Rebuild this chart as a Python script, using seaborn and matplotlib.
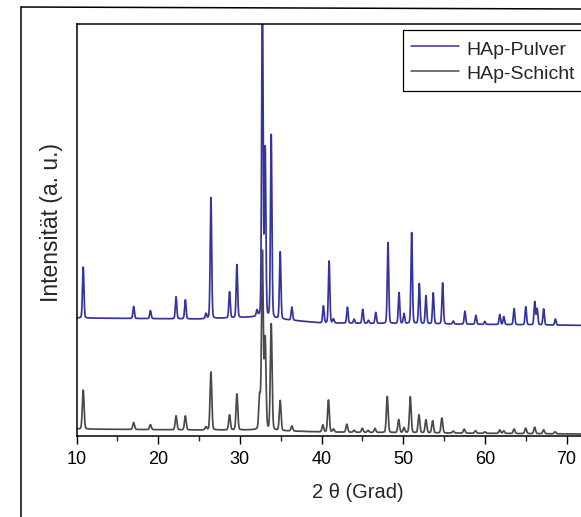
import numpy as np
import pandas as pd
import matplotlib
matplotlib.use("Agg")
import matplotlib.pyplot as plt
import seaborn as sns
from matplotlib.lines import Line2D
from matplotlib.ticker import FixedLocator, MultipleLocator

# ---------------- data ----------------
series_names = ["HAp-Pulver", "HAp-Schicht"]

# HAp-Pulver (upper, blue curve): peak positions (2 theta) and heights above baseline (a.u.)
pulver_peak_pos = [10.82, 17.0, 19.05, 22.19, 23.33, 25.85, 26.46, 28.74, 29.64, 32.1,
                   32.76, 33.1, 33.84, 34.94, 36.37, 40.23, 40.93, 41.46, 43.17, 43.99,
                   45.05, 45.74, 46.64, 48.14, 49.49, 50.1, 51.04, 51.97, 52.79, 53.68,
                   54.83, 56.13, 57.56, 58.9, 60.0, 61.83, 62.32, 63.58, 65.01, 66.11,
                   66.4, 67.2, 68.64]
pulver_peak_height = [51, 12, 8, 22, 19, 5, 121, 26, 53, 6,
                      330, 167, 183, 67, 13, 17, 62, 4, 16, 4,
                      14, 3, 11, 81, 31, 10, 91, 40, 28, 31,
                      41, 3, 13, 9, 3, 10, 8, 16, 18, 23,
                      16, 16, 6]
pulver_base_pos = [10, 25, 32, 36, 40, 55, 80]
pulver_base_level = [118, 117, 119, 116, 113, 112, 110]

# HAp-Schicht (lower, gray curve)
schicht_peak_pos = [10.82, 17.0, 19.05, 22.19, 23.33, 25.85, 26.46, 28.74, 29.64, 32.42,
                    32.76, 33.1, 33.84, 34.94, 36.37, 40.16, 40.85, 41.46, 43.1, 44.0,
                    45.0, 45.7, 46.55, 48.05, 49.45, 50.1, 50.87, 51.93, 52.79, 53.6,
                    54.74, 56.13, 57.47, 58.86, 60.0, 61.83, 62.32, 63.58, 65.0, 66.1,
                    67.2, 68.6]
schicht_peak_height = [39, 7, 5, 14, 14, 3, 58, 15, 36, 33,
                       177, 90, 106, 30, 5, 7, 32, 3, 8, 2,
                       4, 2, 4, 36, 13, 5, 36, 18, 13, 12,
                       15, 2, 4, 2.5, 1.5, 3.5, 2.5, 4.5, 5.5, 6.5,
                       4, 2]
schicht_base_pos = [10, 25, 32, 40, 55, 80]
schicht_base_level = [7, 6, 6, 4, 3, 1.5]

x_tick_values = [10, 20, 30, 40, 50, 60, 70]

# ---------------- build long-form table ----------------
two_theta = np.arange(9.5, 80.0, 0.01)


def pattern(pos, height, base_pos, base_level, fwhm):
    y = np.interp(two_theta, base_pos, base_level)
    for p, h in zip(pos, height):
        d = (two_theta - p) / (fwhm / 2.0)
        y = y + h * (0.85 * np.exp(-np.log(2) * d ** 2) + 0.15 / (1 + d ** 2))
    return y


df = pd.concat([
    pd.DataFrame({"2theta": two_theta,
                  "I": pattern(pulver_peak_pos, pulver_peak_height,
                               pulver_base_pos, pulver_base_level, 0.21),
                  "Probe": series_names[0]}),
    pd.DataFrame({"2theta": two_theta,
                  "I": pattern(schicht_peak_pos, schicht_peak_height,
                               schicht_base_pos, schicht_base_level, 0.25),
                  "Probe": series_names[1]}),
], ignore_index=True)

# ---------------- plot ----------------
sns.set_style("ticks")
plt.rcParams["font.family"] = ["Liberation Sans", "DejaVu Sans"]

colors = ["#34359a", "#4a4a4a"]

W, H = 581, 517
fig = plt.figure(figsize=(W / 100, H / 100), dpi=100)
x0_px, right_px, top_px, bottom_px = 76.5, 640, 24, 436
ax = fig.add_axes([x0_px / W, (H - bottom_px) / H, (right_px - x0_px) / W,
                   (bottom_px - top_px) / H])

sns.lineplot(data=df, x="2theta", y="I", hue="Probe", palette=colors,
             estimator=None, sort=False, linewidth=1.25, legend=False, ax=ax)

px_per_deg = 8.167
ax.set_xlim(10, 10 + (right_px - x0_px) / px_per_deg)
ax.set_ylim(0, bottom_px - top_px)
ax.set_yticks([])
ax.xaxis.set_major_locator(FixedLocator(x_tick_values))
ax.xaxis.set_minor_locator(MultipleLocator(5))
ax.tick_params(axis="x", which="major", direction="out", length=5.5, width=1.0,
               labelsize=13, pad=5, colors="black")
ax.tick_params(axis="x", which="minor", direction="out", length=3.5, width=1.0)
for side in ["top", "left", "bottom"]:
    ax.spines[side].set_visible(True)
    ax.spines[side].set_linewidth(1.1)
    ax.spines[side].set_color("black")
ax.spines["right"].set_visible(False)

ax.set_xlabel("2 θ (Grad)", fontsize=14.5, labelpad=11)
ax.set_ylabel("Intensität (a. u.)", fontsize=16.5)
ax.yaxis.set_label_coords((63 - x0_px) / (right_px - x0_px), (bottom_px - 222) / (bottom_px - top_px))

handles = [Line2D([], [], color=c, lw=1.1) for c in colors]
leg = fig.legend(handles, series_names, loc="upper left",
                 bbox_to_anchor=(403 / W, 1 - 30 / H), bbox_transform=fig.transFigure,
                 frameon=True, fancybox=False, edgecolor="black", framealpha=1,
                 fontsize=14, handlelength=2.5, handletextpad=0.35, handleheight=1.25,
                 labelspacing=0.2, borderpad=0.4, borderaxespad=0)
leg.get_frame().set_linewidth(0.9)

# outer frame of the figure (scan border)
fig.add_artist(Line2D([21 / W, 21 / W], [0, 1 - 7 / H], transform=fig.transFigure,
                      color="black", lw=1.1))
fig.add_artist(Line2D([21 / W, 1], [1 - 7 / H, 1 - 9 / H], transform=fig.transFigure,
                      color="black", lw=1.1))

fig.savefig("out.png", dpi=100)
